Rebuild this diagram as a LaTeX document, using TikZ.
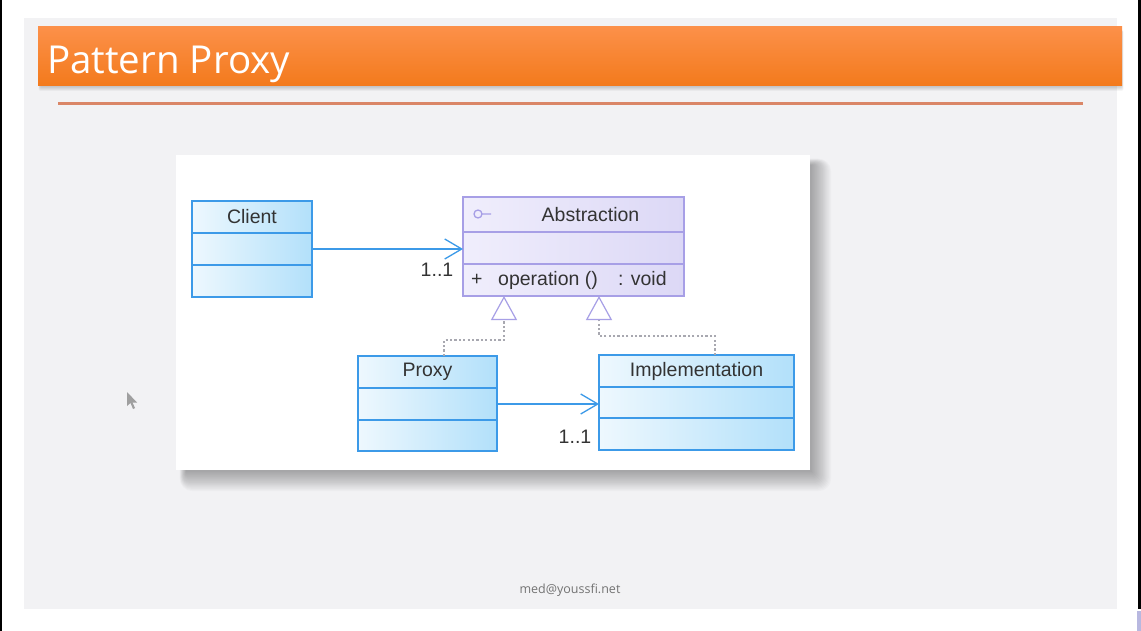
\documentclass[tikz,border=0pt]{standalone}
\usepackage{fontspec}
\setmainfont{Liberation Sans}
\newfontfamily\slidefont{Open Sans}
\usetikzlibrary{arrows.meta}

\definecolor{slidebg}{HTML}{F2F2F4}
\definecolor{bannertop}{HTML}{FC9049}
\definecolor{bannerbot}{HTML}{F37A1C}
\definecolor{ruleline}{HTML}{DA8667}
\definecolor{classline}{HTML}{3C9AE8}
\definecolor{classlight}{HTML}{EEF8FE}
\definecolor{classdark}{HTML}{B2E0FA}
\definecolor{ifaceline}{HTML}{A79FE6}
\definecolor{ifacelight}{HTML}{F0EEFC}
\definecolor{ifacedark}{HTML}{DCD8F6}
\definecolor{ink}{HTML}{333333}
\definecolor{realizegray}{HTML}{A8A8B0}

\begin{document}
\begin{tikzpicture}[x=1pt,y=-1pt,
  classcomp/.style={draw=classline, line width=1.3pt,
    left color=classlight, right color=classdark,
    minimum height=32pt, inner sep=0pt, outer sep=0pt, anchor=north,
    text=ink, font=\fontsize{19.5}{20}\selectfont},
  ifacecomp/.style={classcomp, draw=ifaceline,
    left color=ifacelight, right color=ifacedark},
  assoc/.style={draw=classline, line width=1.4pt,
    -{Straight Barb[length=17pt,width=20pt,line width=1.3pt]}},
  realize/.style={draw=realizegray, line width=1.3pt, dash pattern=on 2.2pt off 2.2pt,
    -{Triangle[length=24pt,width=26pt,fill=white,color=ifaceline,line width=1.2pt]}},
  mult/.style={text=ink, font=\fontsize{19.5}{20}\selectfont, inner sep=0pt},
  optext/.style={text=ink, font=\fontsize{19.5}{20}\selectfont, inner sep=0pt, anchor=base west}]

  % page and slide background
  \fill[white] (0,0) rectangle (1141,631);
  \useasboundingbox (0,0) rectangle (1141,631);
  \fill[slidebg] (24,18) rectangle (1117,609);
  \fill[black] (0,0) rectangle (2.2,631);
  \fill[black] (1137.5,0) rectangle (1141,609);
  \fill[gray!60!blue!40] (1137,611) rectangle (1141,631);

  % title banner with a soft shadow below
  \foreach \k in {0,...,5}
    \fill[black, opacity=0.03, rounded corners=2pt] (40-\k*0.3,30) rectangle (1122+\k*0.3,87+\k*0.8);
  \path[top color=bannertop, bottom color=bannerbot] (38,27) rectangle (1122,86);
  \node[anchor=base west, inner sep=0pt, text=white, font=\slidefont\fontsize{38.5}{40}\selectfont]
    (title) at (47,74) {Pattern Proxy};
  \draw[ruleline, line width=3pt] (58,104) -- (1083,104);

  % diagram panel with a soft shadow to the right and below
  \foreach \k in {0,...,16}
    \fill[black, opacity=0.018, rounded corners=\k*0.8pt] (186-\k*0.4,165-\k*0.4) rectangle (812+\k*1.2,472+\k*1.2);
  \fill[white] (176,155) rectangle (810,470);

  % Client
  \node[classcomp, minimum width=120pt] (client) at (252,201) {Client};
  \node[classcomp, minimum width=120pt] (client-mid) at (client.south) {};
  \node[classcomp, minimum width=120pt] (client-low) at (client-mid.south) {};

  % Abstraction (interface)
  \node[ifacecomp, minimum width=221pt, minimum height=35pt] (abs) at (573.5,197) {\hspace{34pt}Abstraction};
  \node[ifacecomp, minimum width=221pt] (abs-mid) at (abs.south) {};
  \node[ifacecomp, minimum width=221pt] (abs-low) at (abs-mid.south) {};
  \draw[ifaceline, line width=1.3pt] (478,214) circle (4pt) (482,214) -- (491,214);
  \node[optext] (op-vis) at (471,285) {+};
  \node[optext] (op-name) at (498,285) {operation ()};
  \node[optext] (op-type) at (618,285) {: void};

  % Proxy
  \node[classcomp, minimum width=139pt] (proxy) at (427.5,356) {Proxy};
  \node[classcomp, minimum width=139pt] (proxy-mid) at (proxy.south) {};
  \node[classcomp, minimum width=139pt, minimum height=31pt] (proxy-low) at (proxy-mid.south) {};

  % Implementation
  \node[classcomp, minimum width=195pt] (impl) at (696.5,355) {Implementation};
  \node[classcomp, minimum width=195pt, minimum height=31pt] (impl-mid) at (impl.south) {};
  \node[classcomp, minimum width=195pt] (impl-low) at (impl-mid.south) {};

  % associations
  \draw[assoc] (client-mid.east) -- (client-mid.east -| abs-mid.west);
  \node[mult] (m1) at (437,270) {1..1};
  \draw[assoc] (proxy-mid.east) -- (proxy-mid.east -| impl-mid.west);
  \node[mult] (m2) at (575,437) {1..1};

  % realizations
  \draw[realize] ([xshift=16.5pt]proxy.north) -- ++(0,-16) -| ([xshift=41pt]abs-low.south west);
  \draw[realize] ([xshift=18.5pt]impl.north) -- ++(0,-19) -| ([xshift=136pt]abs-low.south west);

  % footer
  \node[text=gray!90!black, font=\slidefont\fontsize{12.5}{14}\selectfont] (footer) at (570,590) {med@youssfi.net};

  % mouse pointer
  \fill[gray!75] (127,392) -- (127,406) -- (130.5,403) -- (133,409) -- (135,408) -- (132.5,402.5) -- (137,402.5) -- cycle;
\end{tikzpicture}
\end{document}
